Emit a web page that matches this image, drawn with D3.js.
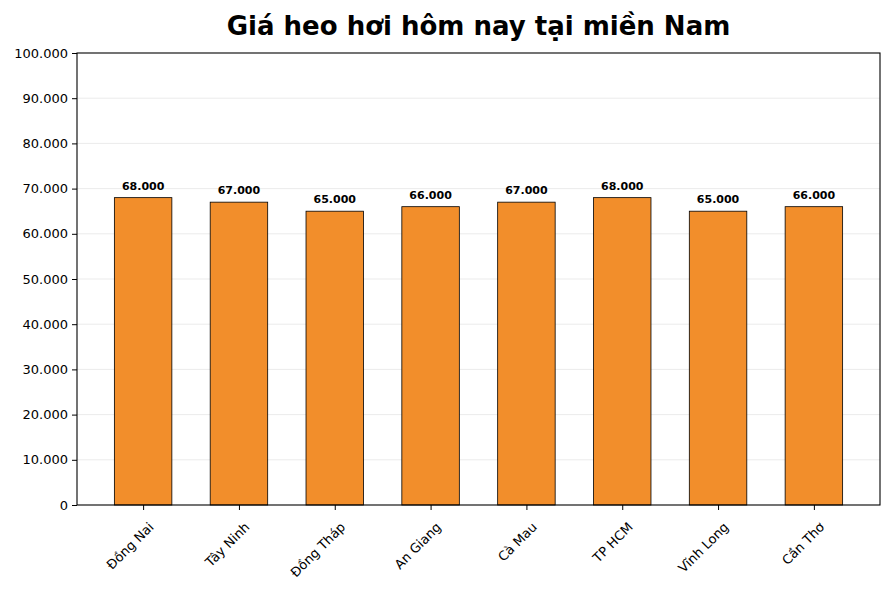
<!DOCTYPE html>
<html><head><meta charset="utf-8">
<script src="https://cdn.jsdelivr.net/npm/d3@7"></script>
<style>body{margin:0;background:#fff}text{font-family:"DejaVu Sans",sans-serif}</style>
</head><body><svg id="chart"></svg>
<script>
const provinces = ["Đồng Nai","Tây Ninh","Đồng Tháp","An Giang","Cà Mau","TP HCM","Vĩnh Long","Cần Thơ"];
const prices = [68000,67000,65000,66000,67000,68000,65000,66000];
const yTicks = [0,10000,20000,30000,40000,50000,60000,70000,80000,90000,100000];

const W = 889, H = 589;
const m = {left:77, right:9, top:53, bottom:84};
const fmt = v => d3.format(",")(v).replace(/,/g, ".");

const svg = d3.select("#chart").attr("width", W).attr("height", H);
const x = d3.scaleLinear().domain([-0.69, 7.69]).range([m.left, W - m.right]);
const y = d3.scaleLinear().domain([0, 100000]).range([H - m.bottom, m.top]);

svg.append("text").attr("x", (m.left + W - m.right) / 2).attr("y", 35)
  .attr("text-anchor", "middle").attr("font-size", 26).attr("font-weight", "bold")
  .text("Giá heo hơi hôm nay tại miền Nam");

// grid
svg.append("g").selectAll("line").data(yTicks.slice(1, -1)).enter().append("line")
  .attr("x1", m.left).attr("x2", W - m.right)
  .attr("y1", d => y(d)).attr("y2", d => y(d))
  .attr("stroke", "#e6e6e6").attr("stroke-width", 0.8);

const bw = x(0.6) - x(0);
svg.append("g").selectAll("rect").data(prices).enter().append("rect")
  .attr("x", (d, i) => x(i) - bw / 2).attr("width", bw)
  .attr("y", d => y(d)).attr("height", d => y(0) - y(d))
  .attr("fill", "#f28e2b").attr("stroke", "#000").attr("stroke-width", 0.8);

svg.append("g").selectAll("text").data(prices).enter().append("text")
  .attr("x", (d, i) => x(i)).attr("y", d => y(d) - 8)
  .attr("text-anchor", "middle").attr("font-size", 11).attr("font-weight", "bold")
  .text(d => fmt(d));

// axes
svg.append("g").attr("transform", `translate(${m.left},0)`)
  .call(d3.axisLeft(y).tickValues(yTicks).tickFormat(fmt).tickSize(5).tickPadding(4))
  .call(g => g.selectAll("text").attr("font-size", 13).attr("fill", "#000").attr("font-family", "DejaVu Sans"))
  .call(g => g.select(".domain").remove());

const xa = svg.append("g").attr("transform", `translate(0,${y(0)})`)
  .call(d3.axisBottom(x).tickValues(d3.range(provinces.length)).tickFormat(i => provinces[i]).tickSize(5))
  .call(g => g.select(".domain").remove());
xa.selectAll("text").attr("font-size", 13).attr("fill", "#000").attr("font-family", "DejaVu Sans")
  .attr("text-anchor", "end").attr("dy", "0.35em")
  .attr("transform", "translate(2,14) rotate(-45)");

svg.append("rect").attr("x", m.left).attr("y", m.top)
  .attr("width", W - m.left - m.right).attr("height", H - m.top - m.bottom)
  .attr("fill", "none").attr("stroke", "#000").attr("stroke-width", 1.1);
</script></body></html>
